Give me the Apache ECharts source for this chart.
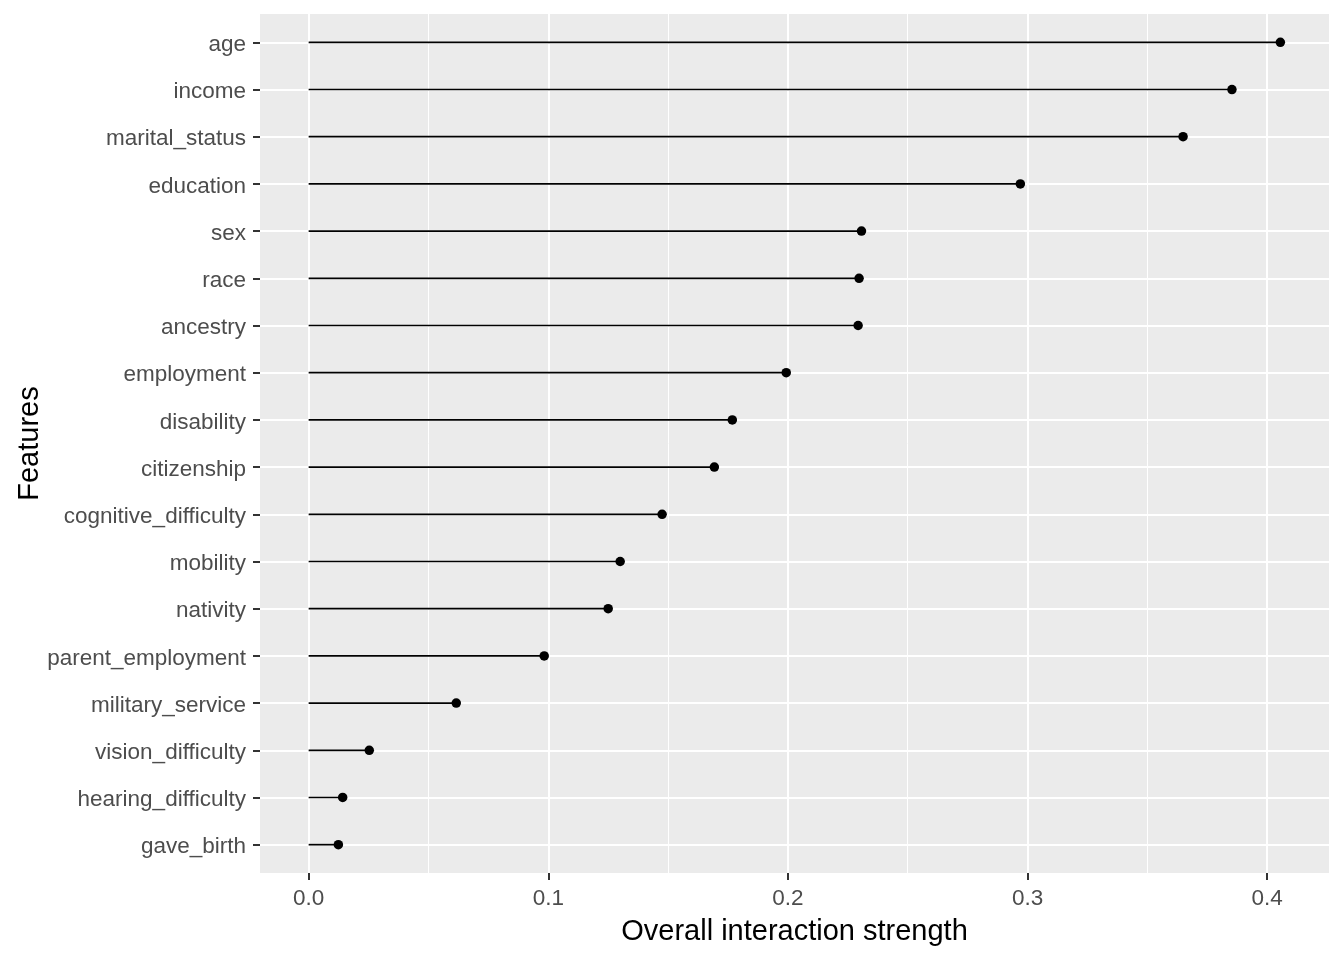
<!DOCTYPE html>
<html>
<head>
<meta charset="UTF-8">
<title>Overall interaction strength</title>
<script src="https://cdn.jsdelivr.net/npm/echarts@6/dist/echarts.min.js"></script>
<style>
  html, body { margin: 0; padding: 0; background: #fff; }
  #main { width: 1344px; height: 960px; }
</style>
</head>
<body>
<div id="main"></div>
<script>
  // features, top to bottom
  var features = ['age', 'income', 'marital_status', 'education', 'sex', 'race', 'ancestry',
    'employment', 'disability', 'citizenship', 'cognitive_difficulty', 'mobility', 'nativity',
    'parent_employment', 'military_service', 'vision_difficulty', 'hearing_difficulty', 'gave_birth'];
  var strength = [0.4055, 0.3853, 0.3649, 0.2970, 0.2307, 0.2297, 0.2293,
    0.1993, 0.1768, 0.1693, 0.1475, 0.1300, 0.1250,
    0.0983, 0.0616, 0.0253, 0.0142, 0.0124];
  var xTicks = [0, 0.1, 0.2, 0.3, 0.4];
  var xMinor = [0.05, 0.15, 0.25, 0.35];

  var rows = features.map(function (f, i) { return i; });
  var points = strength.map(function (v, i) { return [v, i]; });

  var font = 'Liberation Sans';
  var chart = echarts.init(document.getElementById('main'));

  chart.setOption({
    animation: false,
    textStyle: { fontFamily: font },
    grid: {
      left: 260, right: 15, top: 14, bottom: 87,
      containLabel: false,
      outerBoundsMode: 'none',
      show: true, backgroundColor: '#EBEBEB', borderWidth: 0
    },
    xAxis: [{
      type: 'value',
      min: -0.0203, max: 0.4258,
      name: 'Overall interaction strength',
      nameLocation: 'middle',
      nameGap: 44,
      nameTextStyle: { color: '#000', fontSize: 29, fontFamily: font },
      axisLine: { show: false, onZero: false },
      axisTick: { show: true, customValues: xTicks, length: 7, lineStyle: { color: '#333', width: 2 } },
      axisLabel: {
        customValues: xTicks, color: '#4D4D4D', fontSize: 22.5, margin: 14, fontFamily: font,
        formatter: function (v) { return v.toFixed(1); }
      },
      splitLine: { show: true, customValues: xTicks, lineStyle: { color: '#fff', width: 2 } }
    }, {
      type: 'value',
      position: 'bottom',
      min: -0.0203, max: 0.4258,
      axisLine: { show: false, onZero: false },
      axisTick: { show: false, customValues: xMinor },
      axisLabel: { show: false, customValues: xMinor },
      splitLine: { show: true, customValues: xMinor, lineStyle: { color: '#fff', width: 1 } }
    }],
    yAxis: {
      type: 'value',
      inverse: true,
      min: -0.6, max: 17.6,
      name: 'Features',
      nameLocation: 'middle',
      nameGap: 216,
      nameRotate: 90,
      nameMoveOverlap: false,
      nameTextStyle: { color: '#000', fontSize: 29, fontFamily: font },
      axisLine: { show: false, onZero: false },
      axisTick: { show: true, customValues: rows, length: 7, lineStyle: { color: '#333', width: 2 } },
      axisLabel: {
        customValues: rows, color: '#4D4D4D', fontSize: 22.5, margin: 14, fontFamily: font,
        formatter: function (v) { return '{f|' + features[v] + '}'; },
        rich: { f: { color: '#4D4D4D', fontSize: 22.5, fontFamily: font, padding: [5, 0, 0, 0] } }
      },
      splitLine: { show: true, customValues: rows, lineStyle: { color: '#fff', width: 2 } }
    },
    series: [{
      type: 'custom',
      xAxisIndex: 0,
      data: points,
      encode: { x: 0, y: 1 },
      renderItem: function (params, api) {
        var a = api.coord([0, api.value(1)]);
        var b = api.coord([api.value(0), api.value(1)]);
        return {
          type: 'line',
          shape: { x1: a[0], y1: a[1], x2: b[0], y2: b[1] },
          style: { stroke: '#000', lineWidth: 1.7 }
        };
      }
    }, {
      type: 'scatter',
      xAxisIndex: 0,
      data: points,
      symbolSize: 9.5,
      itemStyle: { color: '#000', opacity: 1 }
    }]
  });
</script>
</body>
</html>
